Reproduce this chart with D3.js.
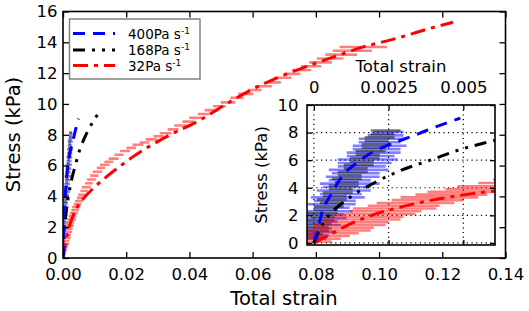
<!DOCTYPE html>
<html>
<head>
<meta charset="utf-8">
<script src="https://cdn.jsdelivr.net/npm/d3@7"></script>
<style>
  body { margin: 0; background: #fff; }
  svg { display: block; font-family: 'DejaVu Sans', sans-serif; }
</style>
</head>
<body>
<div id="chart"></div>
<script>
// Model fits: [total strain, stress (kPa)]
const fit400 = [[0, 0], [0.0001, 0.7], [0.00026, 2.1], [0.0006, 3.6], [0.00093, 4.8],
  [0.0014, 5.75], [0.0019, 6.5], [0.0025, 7.1], [0.0033, 7.75], [0.004, 8.35],
  [0.0047, 8.9], [0.0049, 9.05]];
const fit168 = [[0, 0], [0.0002, 1.0], [0.0005, 2.0], [0.00087, 2.75], [0.0013, 3.45],
  [0.0021, 4.45], [0.0029, 5.25], [0.0039, 6.0], [0.0048, 6.7], [0.0057, 7.25],
  [0.008, 8.3], [0.0116, 9.5]];
const fit32 = [[0, 0], [0.0005, 0.55], [0.001, 1.15], [0.002, 2.05], [0.003, 2.65],
  [0.0042, 3.2], [0.0054, 3.6], [0.0064, 3.85], [0.010, 4.6], [0.0138, 5.28],
  [0.018, 5.95], [0.0222, 6.58], [0.0328, 7.88], [0.0434, 8.96], [0.055, 10.4],
  [0.0634, 11.3], [0.074, 12.2], [0.0845, 12.97], [0.095, 13.7], [0.1056, 14.26],
  [0.116, 14.9], [0.1234, 15.3]];

// Experiments: [mean strain, stress (kPa), strain error]
const exp400 = [[0.0001, 0.3, 0.0003], [0.0001, 0.55, 0.0004], [0.0002, 0.8, 0.0005],
  [0.0002, 1.05, 0.0004], [0.0003, 1.3, 0.0006], [0.0003, 1.55, 0.0005],
  [0.0004, 1.8, 0.0007], [0.0004, 2.05, 0.0006], [0.0005, 2.3, 0.0008],
  [0.0006, 2.55, 0.0006], [0.0006, 2.8, 0.0008], [0.0007, 3.05, 0.0007],
  [0.0008, 3.3, 0.0009], [0.0009, 3.55, 0.0007], [0.0010, 3.8, 0.0009],
  [0.0011, 4.05, 0.0008], [0.0012, 4.3, 0.0010], [0.0012, 4.55, 0.0007],
  [0.0013, 4.8, 0.0009], [0.0014, 5.05, 0.0008], [0.0015, 5.3, 0.0010],
  [0.0016, 5.55, 0.0008], [0.0017, 5.8, 0.0009], [0.0018, 6.05, 0.0010],
  [0.0019, 6.3, 0.0008], [0.0020, 6.55, 0.0009], [0.0021, 6.8, 0.0008],
  [0.0022, 7.05, 0.0009], [0.0022, 7.3, 0.0007], [0.0023, 7.55, 0.0008],
  [0.0024, 7.8, 0.0006], [0.0025, 8.05, 0.0005]];
const exp168 = [[0.0000, 0.4, 0.0003], [0.0000, 0.65, 0.0003], [0.0001, 0.9, 0.0004],
  [0.0001, 1.15, 0.0004], [0.0002, 1.4, 0.0004], [0.0002, 1.65, 0.0005],
  [0.0003, 1.9, 0.0004], [0.0003, 2.15, 0.0005], [0.0004, 2.4, 0.0004],
  [0.0005, 2.65, 0.0005], [0.0006, 2.9, 0.0004], [0.0006, 3.15, 0.0005],
  [0.0007, 3.4, 0.0004], [0.0008, 3.65, 0.0005], [0.0009, 3.9, 0.0004],
  [0.0010, 4.15, 0.0005], [0.0011, 4.4, 0.0004], [0.0011, 4.65, 0.0005],
  [0.0012, 4.9, 0.0004], [0.0013, 5.15, 0.0005], [0.0014, 5.4, 0.0004],
  [0.0015, 5.65, 0.0005], [0.0016, 5.9, 0.0004], [0.0017, 6.15, 0.0005],
  [0.0018, 6.4, 0.0004], [0.0019, 6.65, 0.0005], [0.0020, 6.9, 0.0004],
  [0.0021, 7.15, 0.0005], [0.0021, 7.4, 0.0004], [0.0022, 7.65, 0.0005],
  [0.0023, 7.9, 0.0004], [0.0024, 8.15, 0.0005]];
const exp32 = [[0.0002, 0.1, 0.0004], [0.0003, 0.3, 0.0006], [0.0004, 0.5, 0.0008],
  [0.0006, 0.7, 0.0009], [0.0008, 0.9, 0.0011], [0.0010, 1.1, 0.0010],
  [0.0012, 1.3, 0.0012], [0.0014, 1.5, 0.0011], [0.0016, 1.7, 0.0013],
  [0.0018, 1.9, 0.0012], [0.0021, 2.1, 0.0013], [0.0024, 2.3, 0.0012],
  [0.0027, 2.5, 0.0014], [0.0030, 2.7, 0.0012], [0.0034, 2.9, 0.0013],
  [0.0038, 3.1, 0.0012], [0.0042, 3.3, 0.0013], [0.0046, 3.5, 0.0012],
  [0.0051, 3.7, 0.0013], [0.0056, 3.9, 0.0012], [0.0061, 4.1, 0.0013],
  [0.0067, 4.35, 0.0012], [0.0074, 4.6, 0.0014], [0.0082, 4.85, 0.0012],
  [0.0090, 5.1, 0.0014], [0.0099, 5.35, 0.0013], [0.0109, 5.6, 0.0015],
  [0.0120, 5.85, 0.0013], [0.0132, 6.05, 0.0015], [0.0145, 6.25, 0.0014],
  [0.0160, 6.45, 0.0016], [0.0177, 6.7, 0.0014], [0.0196, 6.95, 0.0016],
  [0.0216, 7.15, 0.0015], [0.0237, 7.35, 0.0017], [0.0258, 7.5, 0.0015],
  [0.0280, 7.7, 0.0018], [0.0302, 7.9, 0.0016], [0.0325, 8.1, 0.0019],
  [0.0348, 8.35, 0.0017], [0.0372, 8.6, 0.0020], [0.0396, 8.85, 0.0018],
  [0.0420, 9.1, 0.0021], [0.0445, 9.35, 0.0019], [0.0470, 9.6, 0.0022],
  [0.0495, 9.85, 0.0020], [0.0522, 10.1, 0.0023], [0.0550, 10.4, 0.0021],
  [0.0578, 10.65, 0.0024], [0.0606, 10.9, 0.0022], [0.0635, 11.15, 0.0026],
  [0.0665, 11.4, 0.0024], [0.0695, 11.7, 0.0028], [0.0725, 11.95, 0.0026],
  [0.0755, 12.2, 0.0030], [0.0785, 12.45, 0.0032], [0.0815, 12.7, 0.0036],
  [0.0845, 12.95, 0.0042], [0.0880, 13.2, 0.0050], [0.0915, 13.45, 0.0062],
  [0.0950, 13.7, 0.0075]];

const mainXTicks = [0, 0.02, 0.04, 0.06, 0.08, 0.10, 0.12, 0.14];
const mainYTicks = [0, 2, 4, 6, 8, 10, 12, 14, 16];
const insetXTicks = [0, 0.0025, 0.005];
const insetYTicks = [0, 2, 4, 6, 8, 10];
const legendLabels = ['400Pa s', '168Pa s', '32Pa s'];

const series = [
  { fit: fit400, exp: exp400, color: '#0000ff', dash: '12,8' },
  { fit: fit168, exp: exp168, color: '#000000', dash: '12,7,3,7,3,7' },
  { fit: fit32,  exp: exp32,  color: '#ff0000', dash: '15,6,4,6' }
];

const svg = d3.select('#chart').append('svg')
  .attr('width', 529).attr('height', 311);

function drawPanel(g, x, y, clipId, box) {
  svg.append('clipPath').attr('id', clipId)
    .append('rect')
    .attr('x', box[0]).attr('y', box[1])
    .attr('width', box[2] - box[0]).attr('height', box[3] - box[1]);
  const c = g.append('g').attr('clip-path', `url(#${clipId})`);

  // error bars (blue, then black, then red on top)
  series.forEach(s => {
    c.append('g').selectAll('line').data(s.exp).enter().append('line')
      .attr('x1', d => x(d[0] - d[2])).attr('x2', d => x(d[0] + d[2]))
      .attr('y1', d => y(d[1])).attr('y2', d => y(d[1]))
      .attr('stroke', s.color).attr('stroke-opacity', 0.5)
      .attr('stroke-width', 2.6);
  });

  // fits
  const line = d3.line().x(d => x(d[0])).y(d => y(d[1])).curve(d3.curveMonotoneX);
  [series[2], series[1], series[0]].forEach(s => {
    c.append('path').datum(s.fit)
      .attr('fill', 'none').attr('stroke', s.color)
      .attr('stroke-width', 3).attr('stroke-dasharray', s.dash)
      .attr('d', line);
  });
}

function styleAxis(g) {
  g.select('.domain').remove();
  g.selectAll('line').attr('stroke', '#000').attr('stroke-width', 1.3);
  g.selectAll('text').attr('fill', '#000')
    .style('font-family', 'DejaVu Sans').style('font-size', '16.5px');
}

// ── Main axes ──
const x = d3.scaleLinear().domain([0, 0.14]).range([63, 505.5]);
const y = d3.scaleLinear().domain([0, 16]).range([258, 11.5]);
const main = svg.append('g');
drawPanel(main, x, y, 'clip-main', [63, 11.5, 505.5, 258]);

main.append('g').attr('transform', 'translate(0,258)')
  .call(d3.axisBottom(x).tickValues(mainXTicks).tickSize(-6).tickPadding(10)
    .tickFormat(d3.format('.2f'))).call(styleAxis);
main.append('g').attr('transform', 'translate(0,11.5)')
  .call(d3.axisTop(x).tickValues(mainXTicks).tickSize(-6).tickFormat(''))
  .call(styleAxis);
main.append('g').attr('transform', 'translate(63,0)')
  .call(d3.axisLeft(y).tickValues(mainYTicks).tickSize(-6).tickPadding(5.5)
    .tickFormat(d3.format('d'))).call(styleAxis);
main.append('g').attr('transform', 'translate(505.5,0)')
  .call(d3.axisRight(y).tickValues(mainYTicks).tickSize(-6).tickFormat(''))
  .call(styleAxis);
main.append('rect').attr('x', 63).attr('y', 11.5)
  .attr('width', 442.5).attr('height', 246.5)
  .attr('fill', 'none').attr('stroke', '#000').attr('stroke-width', 1.6);

main.append('text').attr('x', 284).attr('y', 305).attr('text-anchor', 'middle')
  .style('font-size', '19.5px').text('Total strain');
main.append('text').attr('transform', 'translate(20,134.5) rotate(-90)')
  .attr('text-anchor', 'middle').style('font-size', '19.5px').text('Stress (kPa)');

// ── Legend ──
const legend = svg.append('g');
legend.append('rect').attr('x', 69.5).attr('y', 19).attr('width', 130.5).attr('height', 60)
  .attr('fill', '#fff').attr('stroke', '#808080').attr('stroke-width', 1.5);
const rowY = [33.5, 50, 65.5];
series.forEach((s, i) => {
  legend.append('line').attr('x1', 73).attr('x2', 115)
    .attr('y1', rowY[i]).attr('y2', rowY[i])
    .attr('stroke', s.color).attr('stroke-width', 3).attr('stroke-dasharray', s.dash);
  const t = legend.append('text').attr('x', 128).attr('y', rowY[i] + 5)
    .style('font-size', '13.5px').text(legendLabels[i]);
  t.append('tspan').attr('dy', -5).style('font-size', '9px').text('-1');
});

// ── Inset ──
const xi = d3.scaleLinear().domain([-0.00023, 0.00606]).range([307, 495]);
const yi = d3.scaleLinear().domain([-0.15, 10]).range([245, 105]);
const inset = svg.append('g');
inset.append('rect').attr('x', 307).attr('y', 105).attr('width', 188).attr('height', 140)
  .attr('fill', '#fff');

// dotted grid
inset.append('g').selectAll('line').data(insetXTicks).enter().append('line')
  .attr('x1', d => xi(d)).attr('x2', d => xi(d)).attr('y1', 105).attr('y2', 245)
  .attr('stroke', '#000').attr('stroke-width', 1.2).attr('stroke-dasharray', '1.2,3.5');
inset.append('g').selectAll('line').data(insetYTicks).enter().append('line')
  .attr('x1', 307).attr('x2', 495).attr('y1', d => yi(d)).attr('y2', d => yi(d))
  .attr('stroke', '#000').attr('stroke-width', 1.2).attr('stroke-dasharray', '1.2,3.5');

drawPanel(inset, xi, yi, 'clip-inset', [307, 105, 495, 245]);

inset.append('g').attr('transform', 'translate(0,105)')
  .call(d3.axisTop(xi).tickValues(insetXTicks).tickSize(-5).tickPadding(11.7)
    .tickFormat(d => d === 0 ? '0' : String(d))).call(styleAxis);
inset.append('g').attr('transform', 'translate(0,245)')
  .call(d3.axisBottom(xi).tickValues(insetXTicks).tickSize(-5).tickFormat(''))
  .call(styleAxis);
inset.append('g').attr('transform', 'translate(307,0)')
  .call(d3.axisLeft(yi).tickValues(insetYTicks).tickSize(-5).tickPadding(8.5)
    .tickFormat(d3.format('d'))).call(styleAxis);
inset.append('g').attr('transform', 'translate(495,0)')
  .call(d3.axisRight(yi).tickValues(insetYTicks).tickSize(-5).tickFormat(''))
  .call(styleAxis);
inset.append('rect').attr('x', 307).attr('y', 105).attr('width', 188).attr('height', 140)
  .attr('fill', 'none').attr('stroke', '#000').attr('stroke-width', 1.6);

inset.append('text').attr('x', 401).attr('y', 71.7).attr('text-anchor', 'middle')
  .style('font-size', '16.5px').text('Total strain');
inset.append('text').attr('transform', 'translate(267,175) rotate(-90)')
  .attr('text-anchor', 'middle').style('font-size', '16.5px').text('Stress (kPa)');
</script>
</body>
</html>
